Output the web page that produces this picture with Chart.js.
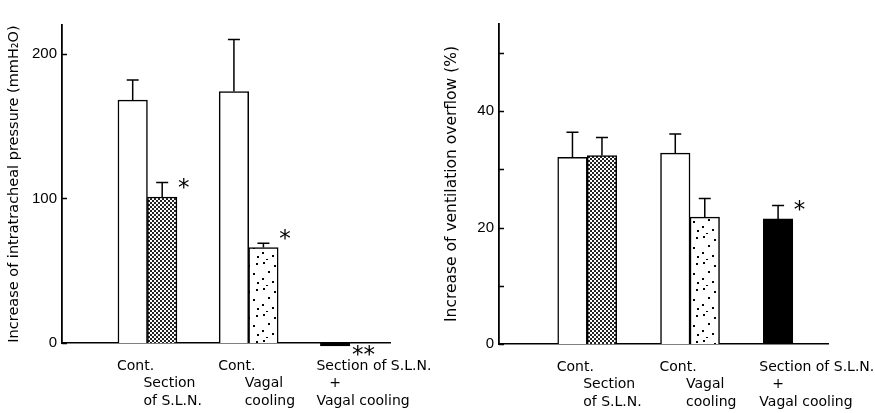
<!DOCTYPE html>
<html>
<head>
<meta charset="utf-8">
<script src="https://cdn.jsdelivr.net/npm/chart.js@4/dist/chart.umd.min.js"></script>
<style>
  body { margin: 0; background: #fff; }
  .wrap { display: flex; width: 875px; height: 413px; }
  canvas { display: block; }
</style>
</head>
<body>
<div class="wrap">
  <canvas id="left" width="440" height="413"></canvas>
  <canvas id="right" width="435" height="413"></canvas>
</div>
<script>
// group names: control bar (row 0) and treated bar (rows 1-2)
const ctrlNames = ["Cont.", "Cont.", "Section of S.L.N.\n+\nVagal cooling"]
const treatNames = ["Section\nof S.L.N.", "Vagal\ncooling", ""]

// left panel: intratracheal pressure (mmH2O)
const pressCtrl = [168, 174, -2]
const pressCtrlErr = [182, 210, null]
const pressTreat = [101, 66, null]
const pressTreatErr = [111, 69, null]
const pressCtrlSig = ["", "", "**"]
const pressTreatSig = ["*", "*", ""]
const pressTicks = [0, 100, 200]
const pressTickLabels = ["0", "100", "200"]

// right panel: ventilation overflow (%)
const ventCtrl = [32.1, 32.8, 21.5]
const ventCtrlErr = [36.4, 36.1, 23.8]
const ventTreat = [32.4, 21.8, null]
const ventTreatErr = [35.5, 25.0, null]
const ventCtrlSig = ["", "", "*"]
const ventTreatSig = ["", "", ""]
const ventTicks = [0, 10, 20, 30, 40, 50]
const ventTickLabels = ["0", "", "20", "", "40", ""]

const makeTile = (w, h, draw) => {
    const c = document.createElement("canvas")
    c.width = w
    c.height = h
    const g = c.getContext("2d")
    g.fillStyle = "#fff"
    g.fillRect(0, 0, w, h)
    g.fillStyle = "#000"
    draw(g)
    return document.createElement("canvas").getContext("2d").createPattern(c, "repeat")
}

// dense checker for S.L.N. section
const checker = makeTile(4, 4, g => {
    g.fillStyle = "#222"
    g.fillRect(0, 0, 2, 2)
    g.fillRect(2, 2, 2, 2)
})
// sparse specks for vagal cooling
const specks = makeTile(26, 26, g => {
    const dots = [[3, 2], [14, 5], [22, 3], [8, 11], [19, 13], [2, 18], [12, 21], [23, 22], [6, 25]]
    dots.forEach(([x, y]) => g.fillRect(x, y, 2, 2))
})

const ctrlFill = ["#fff", "#fff", "#000"]
const treatFill = [checker, specks, "#fff"]

const decorate = (errs, sigs) => ({
    id: "decorate",
    afterDatasetsDraw(chart) {
        const ctx = chart.ctx
        const y = chart.scales.y
        const area = chart.chartArea
        ctx.save()
        ctx.strokeStyle = "#000"
        ctx.fillStyle = "#000"
        ctx.lineWidth = 1.5

        // inward tick marks on the y axis
        y.ticks.forEach(t => {
            const py = Math.round(y.getPixelForValue(t.value)) + 0.5
            ctx.beginPath()
            ctx.moveTo(area.left, py)
            ctx.lineTo(area.left + 5, py)
            ctx.stroke()
        })

        errs.forEach((list, d) => {
            const meta = chart.getDatasetMeta(d)
            meta.data.forEach((bar, i) => {
                if (list[i] == null) return
                const top = y.getPixelForValue(list[i])
                ctx.beginPath()
                ctx.moveTo(bar.x, bar.y)
                ctx.lineTo(bar.x, top)
                ctx.moveTo(bar.x - 6, top)
                ctx.lineTo(bar.x + 6, top)
                ctx.stroke()
            })
        })

        ctx.font = "23px 'DejaVu Sans'"
        ctx.textBaseline = "middle"
        ctx.textAlign = "left"
        sigs.forEach((list, d) => {
            const meta = chart.getDatasetMeta(d)
            meta.data.forEach((bar, i) => {
                if (!list[i]) return
                const below = bar.y > bar.base
                const sx = bar.x + bar.width / 2 + (below ? 2 : 1)
                const sy = below ? bar.y + 10 : bar.y - 8
                ctx.fillText(list[i], sx, sy)
            })
        })

        ctx.font = "14px 'DejaVu Sans'"
        ctx.textBaseline = "middle"
        const names = [ctrlNames, treatNames]
        names.forEach((list, d) => {
            const meta = chart.getDatasetMeta(d)
            meta.data.forEach((bar, i) => {
                if (!list[i]) return
                const left = bar.x - bar.width / 2
                list[i].split("\n").forEach((line, k) => {
                    const row = d + k
                    const py = area.bottom + 23 + row * 17.5
                    if (line === "+") {
                        ctx.textAlign = "center"
                        ctx.fillText(line, bar.x, py)
                    } else {
                        ctx.textAlign = "left"
                        ctx.fillText(line, left - (d === 0 && k === 0 && list[i].length < 8 ? 1 : 4), py)
                    }
                })
            })
        })
        ctx.restore()
    }
})

const build = (el, cfg) => {
    const xy = (vals) => vals.map((v, i) => ({ x: i + 1, y: v }))
    return new Chart(el, {
        type: "bar",
        data: {
            datasets: [
                {
                    data: xy(cfg.ctrl),
                    backgroundColor: ctrlFill,
                    borderColor: "#000",
                    borderWidth: 1.5,
                    clip: false
                },
                {
                    data: xy(cfg.treat),
                    backgroundColor: treatFill,
                    borderColor: "#000",
                    borderWidth: 1.5,
                    clip: false
                }
            ]
        },
        options: {
            responsive: false,
            animation: false,
            devicePixelRatio: 1,
            layout: { padding: cfg.padding },
            plugins: { legend: { display: false }, tooltip: { enabled: false } },
            datasets: { bar: { barThickness: 29.5 } },
            scales: {
                x: {
                    type: "linear",
                    min: cfg.xMin,
                    max: cfg.xMax,
                    offset: false,
                    grid: { display: false },
                    border: { display: true, color: "#000", width: 1.5 },
                    ticks: { display: false },
                    afterBuildTicks: s => { s.ticks = ctrlNames.map((_, i) => ({ value: i + 1 })) },
                    afterFit: s => { s.height = 0 }
                },
                y: {
                    min: 0,
                    max: cfg.yMax,
                    grid: { display: false, drawTicks: false, tickLength: 0 },
                    border: { display: true, color: "#000", width: 1.8 },
                    afterBuildTicks: s => { s.ticks = cfg.ticks.map(v => ({ value: v })) },
                    ticks: {
                        color: "#000",
                        padding: 5,
                        font: { family: "'Liberation Sans'", size: 15 },
                        callback: (v) => cfg.tickLabels[cfg.ticks.indexOf(v)]
                    },
                    title: {
                        display: true,
                        text: cfg.title,
                        color: "#000",
                        font: { family: "'DejaVu Sans'", size: cfg.titleSize },
                        padding: { top: cfg.titlePad, bottom: 0 }
                    },
                    afterFit: s => { s.width = cfg.axisWidth }
                }
            }
        },
        plugins: [decorate(cfg.errs, cfg.sigs)]
    })
}

build(document.querySelector("#left"), {
    ctrl: pressCtrl,
    treat: pressTreat,
    errs: [pressCtrlErr, pressTreatErr],
    sigs: [pressCtrlSig, pressTreatSig],
    ticks: pressTicks,
    tickLabels: pressTickLabels,
    yMax: 220,
    xMin: 0.156,
    xMax: 3.396,
    axisWidth: 62,
    titlePad: 6,
    titleSize: 14.5,
    title: "Increase of intratracheal pressure (mmH₂O)",
    padding: { top: 25, right: 50, bottom: 70, left: 0 }
})

build(document.querySelector("#right"), {
    ctrl: ventCtrl,
    treat: ventTreat,
    errs: [ventCtrlErr, ventTreatErr],
    sigs: [ventCtrlSig, ventTreatSig],
    ticks: ventTicks,
    tickLabels: ventTickLabels,
    yMax: 55,
    xMin: 0.142,
    xMax: 3.342,
    axisWidth: 59,
    titlePad: 3,
    titleSize: 15.5,
    title: "Increase of ventilation overflow (%)",
    padding: { top: 24, right: 47, bottom: 69, left: 0 }
})
</script>
</body>
</html>
